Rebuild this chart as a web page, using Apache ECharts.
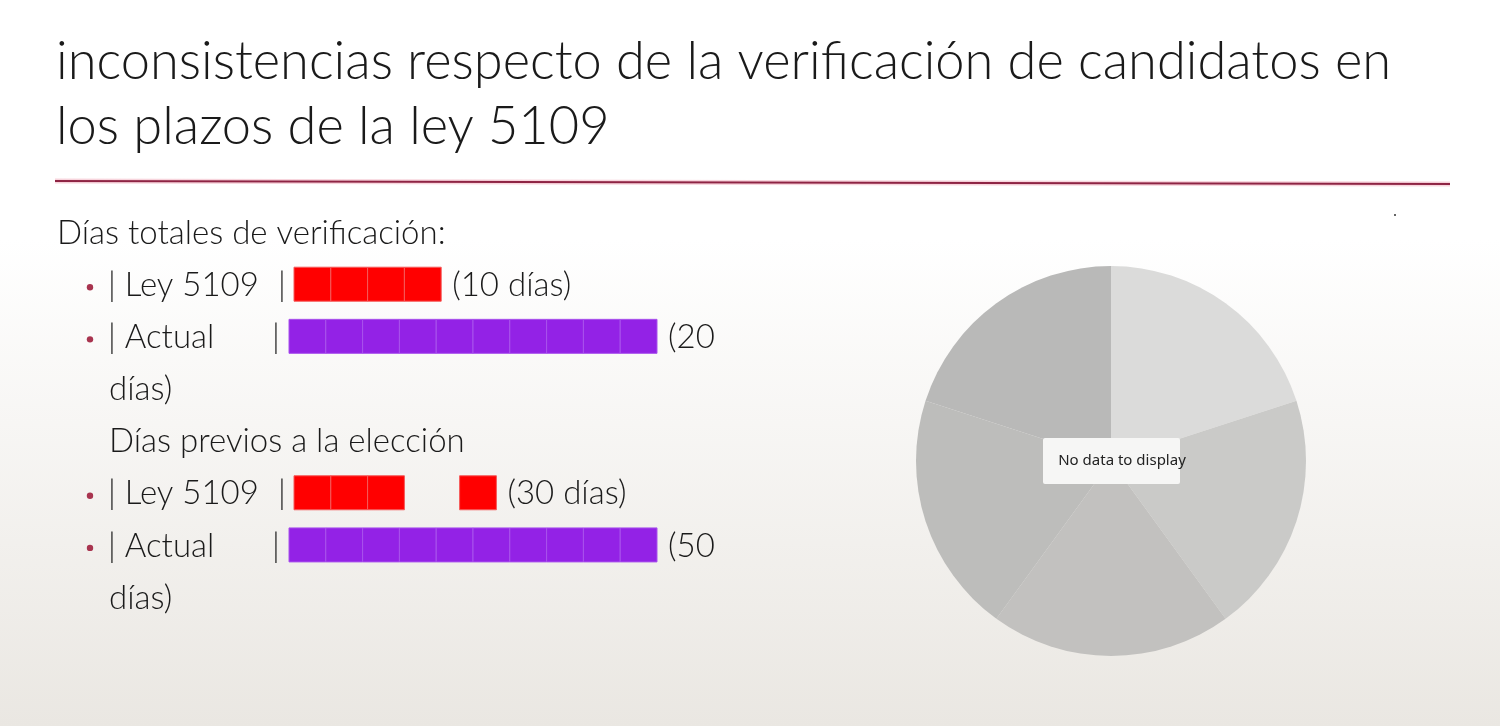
<!DOCTYPE html>
<html><head><meta charset="utf-8">
<script src="https://cdn.jsdelivr.net/npm/echarts@6/dist/echarts.min.js"></script>
<style>html,body{margin:0;padding:0;background:#fff;}#c{width:1500px;height:726px;}</style>
</head><body><div id="c"></div>
<script>
// ---- data ----
const titleLines = ['inconsistencias respecto de la verificación de candidatos en', 'los plazos de la ley 5109'];
const heading1 = 'Días totales de verificación:';
const heading2 = 'Días previos a la elección';
const rowNames = ['Ley 5109', 'Actual', 'Ley 5109', 'Actual'];
const rowLine = [1, 2, 5, 6];          // text line on which each row sits
const days = [10, 20, 30, 50];
const rowWrap = [false, true, false, true];
const segRow = [0, 1, 2, 2, 3];        // block runs: row, start (in blocks), length (in blocks)
const segStart = [0, 0, 0, 4.5, 0];
const segBlocks = [4, 10, 3, 1, 10];
const pieNames = ['s1', 's2', 's3', 's4', 's5'];
const pieValues = [1, 1, 1, 1, 1];
const emptyMessage = 'No data to display';

// ---- styles ----
const FONT = 'Lato, "Open Sans", sans-serif';
const lineTop = 207, lineH = 52.14;
const lineY = i => lineTop + (i + 0.5) * lineH;
const rowColor = ['#FF0000', '#9322E6', '#FF0000', '#9322E6'];
const rowStroke = ['#F45A5A', '#A852EC', '#F45A5A', '#A852EC'];
const rowOffset = [5, 0, 5, 0];
const pieColors = ['#DBDBDA', '#CACAC8', '#C2C1BF', '#BDBDBB', '#B9B9B8'];

const lastSegOfRow = {};
segRow.forEach((r, i) => { lastSegOfRow[r] = i; });

const graphics = [];
// title
titleLines.forEach((t, i) => graphics.push({
  type: 'text', x: 56, y: 62 + i * 65,
  style: { text: t, font: '300 52.4px ' + FONT, fill: '#1a1a1a', textVerticalAlign: 'middle' }
}));
// rule line
graphics.push({ type: 'line', shape: { x1: 55, y1: 181, x2: 1450, y2: 184 },
  style: { stroke: '#F3B9C6', lineWidth: 5, opacity: 0.6 } });
graphics.push({ type: 'line', shape: { x1: 55, y1: 181, x2: 1450, y2: 184 },
  style: { stroke: '#8E2444', lineWidth: 2.2 } });
graphics.push({ type: 'circle', shape: { cx: 1395, cy: 215, r: 1 }, style: { fill: '#333' } });
// headings
const bodyFont = '300 33px ' + FONT;
graphics.push({ type: 'text', x: 57, y: lineY(0), style: { text: heading1, font: bodyFont, fill: '#1a1a1a', textVerticalAlign: 'middle' } });
graphics.push({ type: 'text', x: 109, y: lineY(4), style: { text: heading2, font: bodyFont, fill: '#1a1a1a', textVerticalAlign: 'middle' } });
// row labels
rowNames.forEach((n, i) => {
  const y = lineY(rowLine[i]);
  graphics.push({ type: 'circle', shape: { cx: 90, cy: y + 2, r: 3.2 }, style: { fill: '#A8344F' } });
  graphics.push({ type: 'text', x: 108, y: y, style: { text: '| ' + n, font: bodyFont, fill: '#1a1a1a', textVerticalAlign: 'middle' } });
  graphics.push({ type: 'text', x: n === 'Actual' ? 272 : 278, y: y, style: { text: '|', font: bodyFont, fill: '#1a1a1a', textVerticalAlign: 'middle' } });
  if (rowWrap[i]) {
    graphics.push({ type: 'text', x: 109, y: lineY(rowLine[i] + 1), style: { text: 'días)', font: bodyFont, fill: '#1a1a1a', textVerticalAlign: 'middle' } });
  }
});
// empty-pie message box
graphics.push({ type: 'rect', shape: { x: 1043, y: 438, width: 137, height: 46, r: 2 }, style: { fill: '#F6F6F5' }, z: 10 });
graphics.push({ type: 'text', x: 1122, y: 461, z: 11,
  style: { text: emptyMessage, font: '15px "Noto Sans", "Open Sans", sans-serif', fill: '#222', textAlign: 'center', textVerticalAlign: 'middle' } });

const segData = segRow.map((r, i) => [segStart[i], rowLine[r], segBlocks[i], r, i]);

const option = {
  animation: false,
  backgroundColor: { type: 'linear', x: 0, y: 0, x2: 0, y2: 1,
    colorStops: [{ offset: 0, color: '#FFFFFF' }, { offset: 0.33, color: '#FFFFFF' }, { offset: 1, color: '#EAE7E2' }] },
  grid: { left: 289, top: lineTop, width: 30 * 36.8, height: 8 * lineH },
  xAxis: { type: 'value', min: 0, max: 30, show: false },
  yAxis: { type: 'value', min: -0.5, max: 7.5, inverse: true, show: false },
  graphic: graphics,
  series: [
    {
      type: 'custom', silent: true,
      data: segData,
      renderItem: function (params, api) {
        const start = api.value(0), line = api.value(1), n = api.value(2), r = api.value(3), idx = api.value(4);
        const h = 34;
        const children = [];
        let endX = 0;
        for (let b = 0; b < n; b++) {
          const p0 = api.coord([start + b, line]);
          const p1 = api.coord([start + b + 1, line]);
          const x = p0[0] + rowOffset[r];
          children.push({ type: 'rect', shape: { x: x, y: p0[1] - h / 2 - 1, width: p1[0] - p0[0], height: h },
            style: { fill: rowColor[r], stroke: rowStroke[r], lineWidth: 1 } });
          endX = x + (p1[0] - p0[0]);
        }
        if (lastSegOfRow[r] === idx) {
          const y = api.coord([0, line])[1];
          children.push({ type: 'text', x: endX + 11, y: y,
            style: { text: rowWrap[r] ? '(' + days[r] : '(' + days[r] + ' días)', font: bodyFont, fill: '#1a1a1a', textVerticalAlign: 'middle' } });
        }
        return { type: 'group', children: children };
      }
    },
    {
      type: 'pie', silent: true, center: [1111, 461], radius: 195, startAngle: 90, clockwise: true,
      label: { show: false }, labelLine: { show: false },
      itemStyle: { borderWidth: 0 },
      data: pieNames.map((n, i) => ({ name: n, value: pieValues[i], itemStyle: { color: pieColors[i] } }))
    }
  ]
};
echarts.init(document.getElementById('c')).setOption(option);
</script></body></html>
